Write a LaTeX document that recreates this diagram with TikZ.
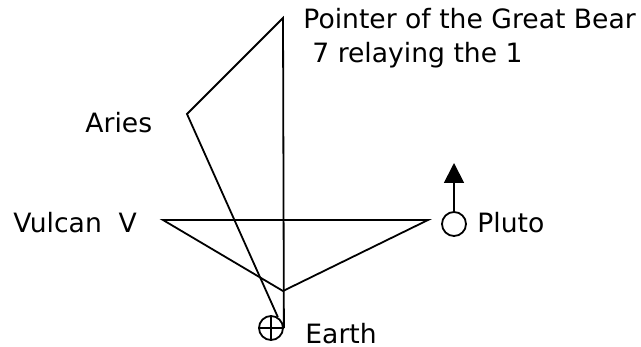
\documentclass[tikz,border=0pt]{standalone}
\usepackage{fontspec}
\setmainfont{DejaVu Sans}
\usetikzlibrary{arrows.meta}

\begin{document}
\begin{tikzpicture}[
  x=0.5pt, y=-0.5pt,
  every node/.style={font=\fontsize{13.3}{17}\selectfont, inner sep=0pt},
  planet/.style={draw, circle, minimum size=12pt, line width=0.9pt},
  line/.style={line width=0.9pt},
  arrow/.style={-{Triangle[length=10pt, width=10pt]}, line width=0.9pt}
]
  \useasboundingbox (0,0) rectangle (641,347);

  % points of the figure
  \coordinate (bear) at (283,18);
  \coordinate (aries) at (187,114);
  \coordinate (vulcan) at (163,220);
  \coordinate (west) at (428,220);
  \coordinate (tip) at (283,291);
  \node[planet] (earth) at (271,328) {};
  \node[planet] (pluto) at (454,224) {};
  \coordinate (up) at (454,163);

  % labels
  \node[anchor=base west] (bearlabel) at (303,29) {Pointer of the Great Bear};
  \node[anchor=base west] (relay) at (312,63) {7 relaying the 1};
  \node[anchor=base west] (arieslabel) at (85,133) {Aries};
  \node[anchor=base west] (vulcanlabel) at (13,232) {Vulcan\ \ V};
  \node[anchor=base west] (plutolabel) at (477,232) {Pluto};
  \node[anchor=base west] (earthlabel) at (305,343) {Earth};

  \draw[line] (earth.north) -- (earth.south);
  \draw[line] (earth.west) -- (earth.east);
  \draw[line] (earth.58) -- (aries) -- (bear) -- (earth.east);
  \draw[line, line join=miter] (vulcan) -- (west) -- (tip) -- cycle;
  \draw[arrow] (pluto.north) -- (up);
\end{tikzpicture}
\end{document}
